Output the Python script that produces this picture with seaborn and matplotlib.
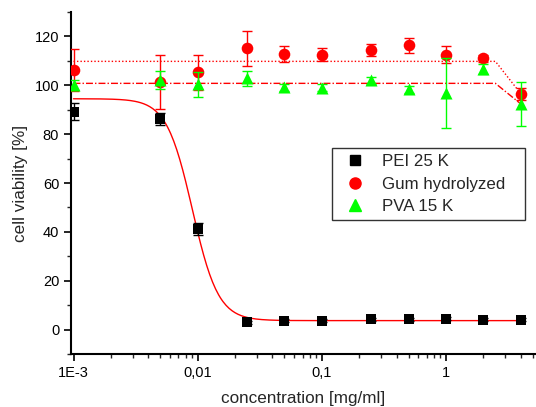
import numpy as np
import pandas as pd
import seaborn as sns
import matplotlib.pyplot as plt
from matplotlib.ticker import FixedLocator, FixedFormatter, LogLocator, MultipleLocator, NullFormatter
from matplotlib.lines import Line2D

# concentrations [mg/ml]
conc = [0.001, 0.005, 0.01, 0.025, 0.05, 0.1, 0.25, 0.5, 1, 2, 4]

# cell viability [%] and errors
pei = [89.2, 86.3, 41.2, 3.0, 3.6, 3.6, 4.2, 4.2, 4.4, 4.1, 4.1]
pei_err = [3.5, 2.5, 2.5, 0.6, 0.6, 0.6, 0.6, 0.6, 0.6, 0.6, 0.6]
gum = [106.3, 101.5, 105.3, 115.1, 112.9, 112.6, 114.4, 116.3, 112.6, 111.1, 96.4]
gum_err = [8.5, 11.0, 7.3, 7.2, 3.2, 2.5, 2.5, 3.0, 3.5, 1.5, 2.5]
pva = [100.1, 102.1, 100.4, 102.8, 99.2, 99.0, 102.0, 98.3, 97.0, 106.8, 92.2]
pva_err = [2.0, 3.6, 5.0, 3.0, 1.5, 1.5, 1.5, 1.5, 14.3, 2.0, 9.0]

# fitted lines
gum_fit_x = [0.001, 2.5, 4]
gum_fit_y = [109.8, 109.8, 96.6]
pva_fit_x = [0.001, 2.5, 4]
pva_fit_y = [100.8, 100.8, 92.4]
# PEI dose-response fit (logistic): top, bottom, x0, power
pei_top, pei_bottom, pei_x0, pei_p = 94.5, 3.7, 0.00907, 4.17

sns.set_style("ticks")
plt.rcParams['font.family'] = ['Liberation Sans', 'DejaVu Sans']

fig = plt.figure(figsize=(5.36, 4.07), dpi=100)
ax = fig.add_axes([0.1325, 0.130, 0.8675, 0.8405])

# PEI fit curve
fx = np.logspace(-3, np.log10(4), 300)
fy = pei_bottom + (pei_top - pei_bottom) / (1 + (fx / pei_x0) ** pei_p)
sns.lineplot(x=fx, y=fy, color='red', lw=1.0, ax=ax, zorder=2)
sns.lineplot(x=gum_fit_x, y=gum_fit_y, color='red', lw=1.0, ls=(0, (1, 1.5)), ax=ax, zorder=2)
sns.lineplot(x=pva_fit_x, y=pva_fit_y, color='red', lw=1.0, ls=(0, (5, 1.5, 1, 1.5)), ax=ax, zorder=2)

series = [
    ("PEI 25 K", pei, pei_err, 'black', 's', 55),
    ("Gum hydrolyzed", gum, gum_err, 'red', 'o', 70),
    ("PVA 15 K", pva, pva_err, '#00ff00', '^', 75),
]
handles = []
for i, (name, y, err, col, mk, sz) in enumerate(series):
    df = pd.DataFrame({"conc": conc, "viab": y, "err": err})
    ax.errorbar(df["conc"], df["viab"], yerr=df["err"], fmt='none', ecolor=col,
                elinewidth=1.0, capsize=3.5, capthick=1.0, zorder=3 + 2 * i)
    sns.scatterplot(data=df, x="conc", y="viab", color=col, marker=mk, s=sz,
                    edgecolor=col, linewidth=0, ax=ax, zorder=4 + 2 * i)
    handles.append(Line2D([], [], ls='none', marker=mk, color=col, markersize=8 if mk != 's' else 7, label=name))

ax.set_xscale('log')
ax.set_xlim(10 ** -3.02, 10 ** 0.725)
ax.set_ylim(-10, 130)

ax.xaxis.set_major_locator(FixedLocator([0.001, 0.01, 0.1, 1]))
ax.xaxis.set_major_formatter(FixedFormatter(["1E-3", "0,01", "0,1", "1"]))
ax.xaxis.set_minor_locator(LogLocator(base=10, subs=np.arange(2, 10)))
ax.xaxis.set_minor_formatter(NullFormatter())
ax.yaxis.set_major_locator(FixedLocator([0, 20, 40, 60, 80, 100, 120]))
ax.yaxis.set_minor_locator(MultipleLocator(10))

ax.tick_params(which='major', direction='out', length=5, width=1.2, labelsize=10.5, colors='black')
ax.tick_params(which='minor', direction='out', length=3, width=1.0)

for s in ['top', 'right']:
    ax.spines[s].set_visible(False)
for s in ['left', 'bottom']:
    ax.spines[s].set_linewidth(1.5)
    ax.spines[s].set_color('black')

ax.set_xlabel("concentration [mg/ml]", fontsize=12.3, labelpad=8)
ax.set_ylabel("cell viability [%]", fontsize=12.3, labelpad=5)

leg = ax.legend(handles=handles, loc='upper left', bbox_to_anchor=(0.561, 0.383, 0.415, 0.219),
                mode='expand', borderaxespad=0, frameon=True, fancybox=False, edgecolor='black',
                fontsize=12.2, handlelength=2, handletextpad=0.6, labelspacing=0.45, borderpad=0.35)
leg.get_frame().set_linewidth(1.0)

fig.savefig("out.png", dpi=100)
